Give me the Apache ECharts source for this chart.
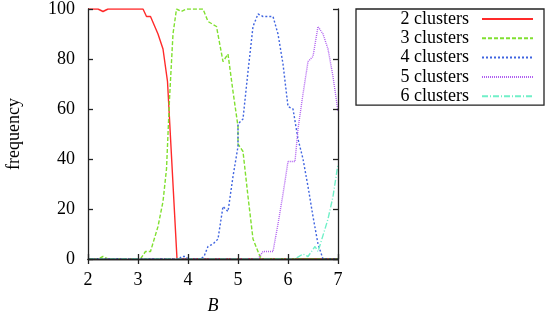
<!DOCTYPE html>
<html>
<head>
<meta charset="utf-8">
<script src="https://cdn.jsdelivr.net/npm/echarts@6/dist/echarts.min.js"></script>
<style>
  html, body { margin: 0; padding: 0; background: #fff; }
  #chart { width: 545px; height: 320px; }
</style>
</head>
<body>
<div id="chart"></div>
<script>
  // [B, frequency] pairs
  var clusters2 = [[2,100],[2.2,100],[2.3,99],[2.4,100],[3.1,100],[3.17,97],[3.25,97],[3.4,90],[3.5,84],[3.59,71],[3.78,0],[7,0]];
  var clusters3 = [[2,0],[2.2,0],[2.3,1],[2.4,0],[3.05,0],[3.15,3],[3.25,3],[3.4,13],[3.5,23],[3.57,36],[3.63,64],[3.7,90],[3.77,100],[3.87,99],[3.97,100],[4.3,100],[4.4,95],[4.57,93],[4.7,79],[4.8,82],[4.9,67],[5.0,53],[5.0,46],[5.1,43],[5.2,25],[5.3,8],[5.44,1],[5.5,0],[7,0]];
  var clusters4 = [[2,0],[3.82,0],[3.87,1],[3.95,1],[4.0,0],[4.25,0],[4.32,1],[4.4,5],[4.5,6],[4.6,8],[4.7,21],[4.8,19],[4.9,33],[5.0,45],[5.0,54],[5.1,56],[5.2,75],[5.3,93],[5.4,98],[5.5,97],[5.7,97],[5.8,90],[5.9,78],[6.0,61],[6.1,60],[6.2,48],[6.3,40],[6.4,29],[6.5,17],[6.6,6],[6.7,0],[7,0]];
  var clusters5 = [[2,0],[5.4,0],[5.5,3],[5.7,3],[5.8,14],[5.9,26],[6.0,39],[6.14,39],[6.2,52],[6.3,66],[6.4,79],[6.5,81],[6.6,93],[6.7,90],[6.8,84],[6.9,73],[7.0,59]];
  var clusters6 = [[2,0],[6.14,0],[6.3,2],[6.4,1],[6.54,5],[6.6,3],[6.74,12],[6.8,16],[6.9,25],[7.0,38]];
  var seriesNames = ['2 clusters','3 clusters','4 clusters','5 clusters','6 clusters'];
  var xTicks = [2,3,4,5,6,7];
  var yTicks = [0,20,40,60,80,100];

  var colors = ['#ff2a2a','#80e030','#3f64e0','#b060f0','#70f0c8'];
  var dashes = ['solid',[4,2],[2,2],[1,1],[6,2,1,2]];
  var allData = [clusters2,clusters3,clusters4,clusters5,clusters6];
  var font = '"Liberation Serif", "DejaVu Serif", serif';

  var chart = echarts.init(document.getElementById('chart'));

  var series = allData.map(function(d, i){
    return {
      name: seriesNames[i], type: 'line', data: d,
      symbol: 'none', showSymbol: false, clip: true,
      lineStyle: {color: colors[i], width: 1.4, type: dashes[i]},
      itemStyle: {color: colors[i]}
    };
  });

  var tickStyle = {show: true, inside: true, length: 5, lineStyle: {color: '#222', width: 1.3}};
  var lineStyle = {show: true, lineStyle: {color: '#222', width: 1.3}};

  chart.setOption({
    animation: false,
    grid: {left: 88, right: 207, top: 9, bottom: 60},
    legend: {
      orient: 'vertical', left: 356, top: 9, align: 'right',
      data: seriesNames,
      itemWidth: 51, itemHeight: 14, itemGap: 1.3,
      padding: [1, 10, 0, 38],
      borderColor: '#222', borderWidth: 1.3,
      itemStyle: {opacity: 0},
      textStyle: {fontFamily: font, fontSize: 18, lineHeight: 18, color: '#000', width: 75, align: 'right', padding: [0, 8, 0, 0]}
    },
    xAxis: [{
      type: 'value', min: xTicks[0], max: xTicks[xTicks.length-1], interval: 1, z: 10,
      name: 'B', nameLocation: 'middle', nameGap: 38,
      nameTextStyle: {fontFamily: font, fontSize: 18, fontStyle: 'italic', color: '#000'},
      axisLine: lineStyle, axisTick: tickStyle, splitLine: {show: false},
      axisLabel: {fontFamily: font, fontSize: 18, color: '#000', margin: 12}
    }, {
      type: 'value', position: 'top', min: xTicks[0], max: xTicks[xTicks.length-1], interval: 1, z: 10,
      axisLine: lineStyle, axisTick: tickStyle, splitLine: {show: false}, axisLabel: {show: false}
    }],
    yAxis: [{
      type: 'value', min: yTicks[0], max: yTicks[yTicks.length-1], interval: 20, z: 10,
      name: 'frequency', nameLocation: 'middle', nameGap: 65,
      nameTextStyle: {fontFamily: font, fontSize: 18, color: '#000'},
      axisLine: lineStyle, axisTick: tickStyle, splitLine: {show: false},
      axisLabel: {fontFamily: font, fontSize: 18, color: '#000', margin: 13}
    }, {
      type: 'value', position: 'right', min: yTicks[0], max: yTicks[yTicks.length-1], interval: 20, z: 10,
      axisLine: lineStyle, axisTick: tickStyle, splitLine: {show: false}, axisLabel: {show: false}
    }],
    series: series
  });
</script>
</body>
</html>
